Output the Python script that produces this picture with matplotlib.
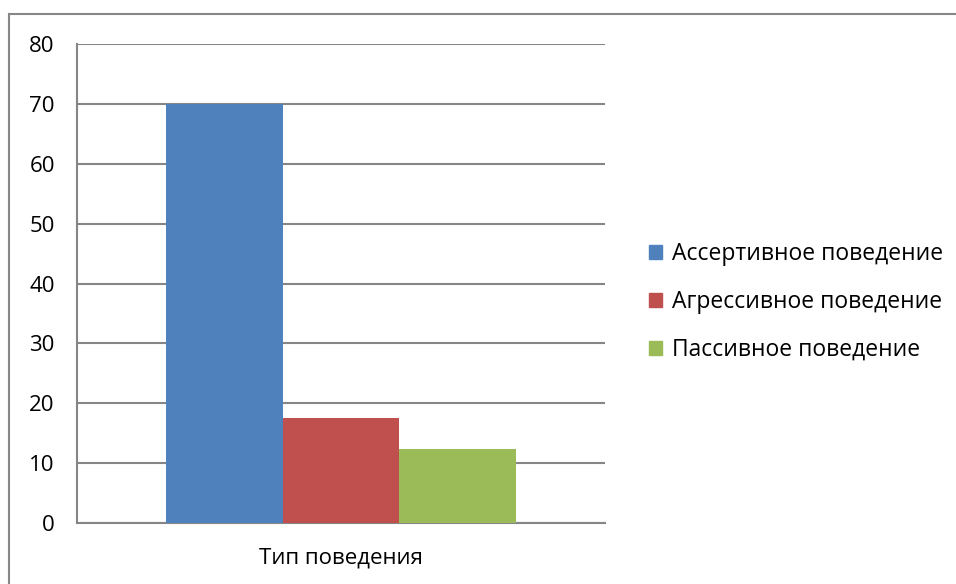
import matplotlib.pyplot as plt
from matplotlib.patches import Rectangle, Patch

category = "Тип поведения"
series = ["Ассертивное поведение", "Агрессивное поведение", "Пассивное поведение"]
values = [70, 17.6, 12.4]
colors = ["#4f81bd", "#c0504d", "#9bbb59"]
yticks = [0, 10, 20, 30, 40, 50, 60, 70, 80]

plt.rcParams['font.family'] = ['Open Sans', 'DejaVu Sans']

fig = plt.figure(figsize=(9.56, 5.84), dpi=100)
ax = fig.add_axes([77/956, 61/584, 528/956, 479/584])

# outer chart frame
fig.patches.append(Rectangle((9/956, -0.1), 1.2, (584-14)/584 + 0.1,
                             transform=fig.transFigure, fill=False,
                             edgecolor="#878787", linewidth=1.5))

offsets = [-1, 0, 1]
for off, val, col, name in zip(offsets, values, colors, series):
    ax.bar(off, val, width=1.0, color=col, label=name, zorder=3)

ax.set_xlim(-2.2625, 2.2625)
ax.set_ylim(0, 80)
ax.set_yticks(yticks)
ax.set_xticks([0])
ax.set_xticklabels([category])
ax.yaxis.grid(True, color="#868686", linewidth=1.5, zorder=0)
ax.tick_params(axis='both', length=0, labelsize=16, colors="black")
ax.tick_params(axis='y', pad=16)
ax.tick_params(axis='x', pad=18)
for s in ["top", "right"]:
    ax.spines[s].set_visible(False)
for s in ["left", "bottom"]:
    ax.spines[s].set_color("#868686")
    ax.spines[s].set_linewidth(1.5)

handles = [Patch(color=c) for c in colors]
fig.legend(handles, series, loc="center left", bbox_to_anchor=(628/956, 1 - 302/584),
           frameon=False, fontsize=16.5, handlelength=0.6, handleheight=0.6,
           handletextpad=0.4, labelspacing=1.05)

fig.savefig("out.png", dpi=100)
